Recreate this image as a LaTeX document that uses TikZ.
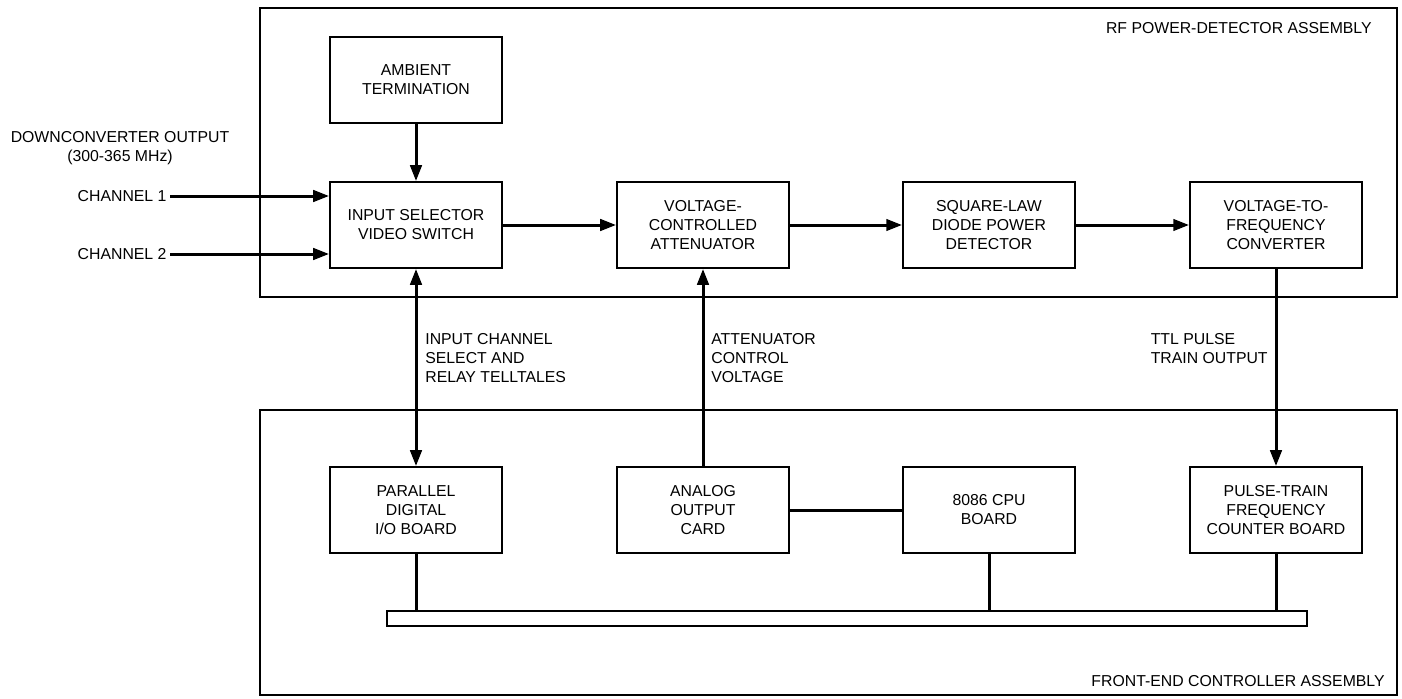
\documentclass[tikz,border=0pt]{standalone}
\usepackage{fontspec}
\setmainfont{Liberation Sans}
\usepackage{tikz}
\usetikzlibrary{arrows.meta, positioning}

\tikzset{
    blockbox/.style={
        rectangle,
        draw=black,
        line width=1.1pt,
        minimum width=3.44cm,
        minimum height=1.72cm,
        align=center,
        font=\fontsize{9}{10.8}\selectfont
    },
    assembly/.style={draw=black, line width=1.2pt},
    conn/.style={line width=1.7pt, -{Triangle[length=9pt,width=6.5pt]}},
    plainconn/.style={line width=1.7pt},
    lbl/.style={align=left, inner sep=0pt, font=\fontsize{9}{10.8}\selectfont}
}

\begin{document}
\begin{tikzpicture}[x=0.02cm, y=-0.02cm]
    \useasboundingbox (0,0) rectangle (1402,698);

    % assemblies
    \draw[assembly] (260,8) rectangle (1397,297);
    \draw[assembly] (260,410) rectangle (1397,695);
    \node[lbl, anchor=base east] (rfname) at (1372,33) {RF POWER-DETECTOR ASSEMBLY};
    \node[lbl, anchor=base east] (fename) at (1385,686) {FRONT-END CONTROLLER ASSEMBLY};

    % rf power-detector blocks
    \node[blockbox] (ambient) at (416,80) {AMBIENT\\TERMINATION};
    \node[blockbox] (insel) at (416,225) {INPUT SELECTOR\\VIDEO SWITCH};
    \node[blockbox] (vca) at (703,225) {VOLTAGE-\\CONTROLLED\\ATTENUATOR};
    \node[blockbox] (sqlaw) at (989,225) {SQUARE-LAW\\DIODE POWER\\DETECTOR};
    \node[blockbox] (vtof) at (1276,225) {VOLTAGE-TO-\\FREQUENCY\\CONVERTER};

    % front-end controller blocks
    \node[blockbox] (pario) at (416,510) {PARALLEL\\DIGITAL\\I/O BOARD};
    \node[blockbox] (aout) at (703,510) {ANALOG\\OUTPUT\\CARD};
    \node[blockbox] (cpu) at (989,510) {8086 CPU\\BOARD};
    \node[blockbox] (counter) at (1276,510) {PULSE-TRAIN\\FREQUENCY\\COUNTER BOARD};
    \node[draw, line width=1.1pt, minimum width=18.4cm, minimum height=0.3cm,
        inner sep=0pt] (bus) at (847,618.5) {};

    % inputs
    \node[lbl, align=center] (dcout) at (120,148) {DOWNCONVERTER OUTPUT\\(300-365 MHz)};
    \node[lbl, anchor=east, outer sep=2pt] (ch1) at (170,196) {CHANNEL 1};
    \node[lbl, anchor=east, outer sep=2pt] (ch2) at (170,254) {CHANNEL 2};

    % signal path
    \draw[conn] (ch1.east) -- (ch1 -| insel.west);
    \draw[conn] (ch2.east) -- (ch2 -| insel.west);
    \draw[conn] (ambient) -- (insel);
    \draw[conn] (insel) -- (vca);
    \draw[conn] (vca) -- (sqlaw);
    \draw[conn] (sqlaw) -- (vtof);

    % links between assemblies
    \draw[conn, {Triangle[length=9pt,width=6.5pt]}-{Triangle[length=9pt,width=6.5pt]}] (insel) -- (pario);
    \draw[conn] (aout) -- (vca);
    \draw[conn] (vtof) -- (counter);
    \node[lbl, anchor=north west] (selnote) at (425,333) {INPUT CHANNEL\\SELECT AND\\RELAY TELLTALES};
    \node[lbl, anchor=north west] (attnote) at (711,333) {ATTENUATOR\\CONTROL\\VOLTAGE};
    \node[lbl, anchor=north east] (ttlnote) at (1268,333) {TTL PULSE\\TRAIN OUTPUT};

    % bus
    \draw[plainconn] (aout) -- (cpu);
    \draw[plainconn] (pario) -- (pario |- bus.north);
    \draw[plainconn] (cpu) -- (cpu |- bus.north);
    \draw[plainconn] (counter) -- (counter |- bus.north);
\end{tikzpicture}
\end{document}
